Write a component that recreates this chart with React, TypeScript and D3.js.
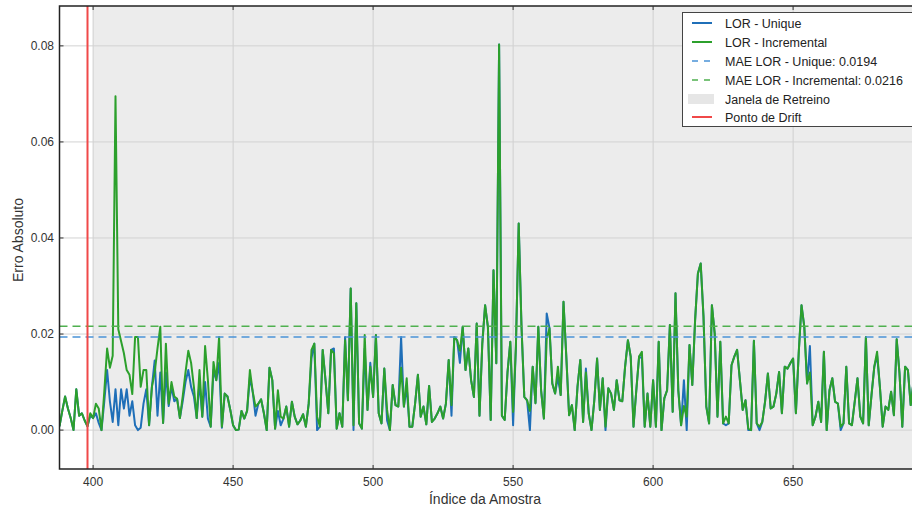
import React, { useEffect, useRef } from "react";
import * as d3 from "d3";

const startIndex = 388;

const incremental: number[] = [
  0.0008, 0.004, 0.007, 0.0045, 0.0025, 0.0, 0.0085, 0.003, 0.0035, 0.002,
  0.0008, 0.0035, 0.0025, 0.0055, 0.0045, 0.0, 0.008, 0.017, 0.013, 0.0155,
  0.0695, 0.021, 0.0185, 0.016, 0.0125, 0.0115, 0.0075, 0.0194, 0.0194, 0.009,
  0.0125, 0.0125, 0.001, 0.009, 0.012, 0.017, 0.0215, 0.0015, 0.018, 0.0055,
  0.01, 0.007, 0.0065, 0.0025, 0.007, 0.012, 0.0165, 0.014, 0.009, 0.0025,
  0.0125, 0.0028, 0.0175, 0.0104, 0.0007, 0.0142, 0.0104, 0.0194, 0.0007, 0.0076,
  0.007, 0.0042, 0.001, 0.0, 0.0001, 0.004, 0.0024, 0.004, 0.0125, 0.008,
  0.0049, 0.0055, 0.0064, 0.0035, 0.0, 0.013, 0.0104, 0.0003, 0.0083, 0.0028,
  0.0024, 0.0049, 0.0007, 0.0059, 0.0028, 0.0012, 0.002, 0.0033, 0.0007, 0.0055,
  0.0167, 0.018, 0.0028, 0.0007, 0.0167, 0.0104, 0.0035, 0.0167, 0.016, 0.0003,
  0.0035, 0.0007, 0.0187, 0.0062, 0.0295, 0.001, 0.0264, 0.0014, 0.0003, 0.0198,
  0.0042, 0.0132, 0.0069, 0.0198, 0.0035, 0.0014, 0.0128, 0.0042, 0.0, 0.0094,
  0.0052, 0.0049, 0.013, 0.0049, 0.0108, 0.0007, 0.0007, 0.0055, 0.0115, 0.0028,
  0.0049, 0.0012, 0.0092, 0.0017, 0.0024, 0.0035, 0.0049, 0.0024, 0.0055, 0.0146,
  0.0052, 0.0194, 0.0187, 0.0165, 0.0215, 0.0125, 0.017, 0.0104, 0.0069, 0.0222,
  0.003, 0.018, 0.026, 0.0215, 0.0021, 0.0333, 0.0139, 0.0803, 0.003, 0.0021,
  0.012, 0.0184, 0.0038, 0.0174, 0.043, 0.0215, 0.0069, 0.0062, 0.004, 0.0132,
  0.0056, 0.0215, 0.0083, 0.0024, 0.019, 0.0212, 0.0097, 0.0076, 0.0132, 0.0073,
  0.0267, 0.0153, 0.0031, 0.0052, 0.0, 0.009, 0.0146, 0.0017, 0.012, 0.0035,
  0.0, 0.0062, 0.0149, 0.0042, 0.0108, 0.0007, 0.0087, 0.0076, 0.0042, 0.0104,
  0.0062, 0.006, 0.0132, 0.0187, 0.0153, 0.0007, 0.0083, 0.0153, 0.0163, 0.0007,
  0.0076, 0.0007, 0.0104, 0.0007, 0.0184, 0.0, 0.0066, 0.0083, 0.0219, 0.0038,
  0.0285, 0.0083, 0.001, 0.005, 0.0028, 0.0177, 0.0094, 0.0229, 0.0326, 0.0347,
  0.0236, 0.0049, 0.0014, 0.026, 0.0201, 0.0028, 0.0184, 0.0014, 0.0028, 0.0014,
  0.0135, 0.0153, 0.0167, 0.0104, 0.0042, 0.0062, 0.0003, 0.0, 0.0186, 0.0014,
  0.0007, 0.0017, 0.006, 0.0118, 0.0045, 0.0049, 0.0076, 0.0121, 0.0035, 0.0132,
  0.0128, 0.0139, 0.0149, 0.0035, 0.016, 0.026, 0.0215, 0.0097, 0.012, 0.001,
  0.0028, 0.0059, 0.0017, 0.0163, 0.0, 0.0083, 0.0108, 0.0059, 0.0055, 0.0007,
  0.0014, 0.0132, 0.0014, 0.001, 0.0059, 0.0108, 0.0028, 0.0014, 0.0194, 0.001,
  0.0073, 0.0132, 0.0163, 0.009, 0.0007, 0.0049, 0.0042, 0.008, 0.0031, 0.0189,
  0.0118, 0.0007, 0.0132, 0.0125, 0.0052, 0.01,
];

const unique: number[] = [
  0.0008, 0.004, 0.007, 0.0045, 0.0025, 0.0, 0.0085, 0.003, 0.0035, 0.002,
  0.0008, 0.003, 0.0025, 0.0035, 0.0015, 0.0, 0.006, 0.0125, 0.006, 0.0017,
  0.0085, 0.001, 0.0085, 0.0045, 0.0085, 0.003, 0.006, 0.001, 0.0, 0.0005,
  0.0055, 0.0085, 0.001, 0.009, 0.0145, 0.003, 0.012, 0.0015, 0.012, 0.005,
  0.009, 0.006, 0.0065, 0.0025, 0.006, 0.01, 0.0125, 0.009, 0.007, 0.0025,
  0.01, 0.0028, 0.01, 0.0024, 0.0007, 0.0125, 0.0104, 0.014, 0.0005, 0.0076,
  0.007, 0.0042, 0.001, 0.0, 0.0001, 0.004, 0.0024, 0.004, 0.011, 0.008,
  0.003, 0.0055, 0.0064, 0.0035, 0.0, 0.013, 0.0104, 0.0003, 0.004, 0.001,
  0.0024, 0.0049, 0.0007, 0.0059, 0.0028, 0.0012, 0.002, 0.0033, 0.0007, 0.0055,
  0.015, 0.018, 0.0, 0.0007, 0.0167, 0.0104, 0.0035, 0.0167, 0.017, 0.0003,
  0.0035, 0.0007, 0.0194, 0.0062, 0.0295, 0.0, 0.0264, 0.0014, 0.0003, 0.017,
  0.0042, 0.014, 0.0069, 0.0198, 0.0035, 0.0014, 0.0128, 0.002, 0.0, 0.0094,
  0.0052, 0.0049, 0.0194, 0.0049, 0.009, 0.0007, 0.0007, 0.0055, 0.0115, 0.0028,
  0.0049, 0.0012, 0.0092, 0.0017, 0.0024, 0.0035, 0.0049, 0.0024, 0.0055, 0.0146,
  0.003, 0.0194, 0.0187, 0.014, 0.0215, 0.0125, 0.017, 0.0104, 0.0069, 0.0222,
  0.003, 0.018, 0.026, 0.0215, 0.0021, 0.0333, 0.0139, 0.0803, 0.003, 0.0021,
  0.012, 0.0184, 0.001, 0.0174, 0.043, 0.0215, 0.0069, 0.0062, 0.0, 0.0132,
  0.0056, 0.0215, 0.0083, 0.0024, 0.0243, 0.0212, 0.0097, 0.0076, 0.011, 0.0073,
  0.0267, 0.0153, 0.0031, 0.0052, 0.0, 0.009, 0.0146, 0.0017, 0.0128, 0.0035,
  0.0, 0.0062, 0.0149, 0.0042, 0.0108, 0.0, 0.0087, 0.0076, 0.0042, 0.0104,
  0.0062, 0.006, 0.0132, 0.0187, 0.0153, 0.0007, 0.0083, 0.0153, 0.015, 0.0007,
  0.0076, 0.0007, 0.0104, 0.0007, 0.0184, 0.0, 0.0066, 0.0083, 0.0219, 0.0038,
  0.0285, 0.0083, 0.001, 0.0104, 0.0, 0.0177, 0.0094, 0.0229, 0.0326, 0.0347,
  0.0236, 0.0049, 0.0014, 0.026, 0.0201, 0.0028, 0.0184, 0.0014, 0.001, 0.0014,
  0.0135, 0.0153, 0.0167, 0.0104, 0.0042, 0.0062, 0.0, 0.0, 0.0186, 0.0014,
  0.0, 0.0017, 0.006, 0.0118, 0.0045, 0.0049, 0.0076, 0.0121, 0.0035, 0.0132,
  0.0128, 0.0139, 0.0149, 0.0035, 0.016, 0.026, 0.0215, 0.0097, 0.0175, 0.001,
  0.0028, 0.0059, 0.0017, 0.0163, 0.0, 0.0083, 0.0108, 0.0059, 0.0055, 0.0,
  0.0014, 0.0132, 0.0014, 0.001, 0.0059, 0.0108, 0.0028, 0.0014, 0.0194, 0.001,
  0.0073, 0.0132, 0.0155, 0.009, 0.0007, 0.0049, 0.0042, 0.008, 0.0031, 0.0189,
  0.0118, 0.0007, 0.0132, 0.0125, 0.0052, 0.01,
];

const maeUnique = 0.0194;
const maeIncremental = 0.0216;
const driftPoint = 398;
const retrainStart = 400;
const xTicks = [400, 450, 500, 550, 600, 650];
const yTicks = [0, 0.02, 0.04, 0.06, 0.08];

const legendItems = [
  { label: "LOR - Unique", kind: "line", color: "#1f6fb8" },
  { label: "LOR - Incremental", kind: "line", color: "#2ca02c" },
  { label: "MAE LOR - Unique: 0.0194", kind: "dash", color: "#4a93d6" },
  { label: "MAE LOR - Incremental: 0.0216", kind: "dash", color: "#4fb04f" },
  { label: "Janela de Retreino", kind: "patch", color: "#e6e6e6" },
  { label: "Ponto de Drift", kind: "line", color: "#f04848" },
];

export default function App() {
  const ref = useRef<SVGSVGElement>(null);

  useEffect(() => {
    const width = 912;
    const height = 508;
    const left = 59.5;
    const top = 6;
    const bottom = 469;
    const right = 913.5;
    const font = "'Liberation Sans', Arial, sans-serif";

    const svg = d3.select(ref.current);
    svg.selectAll("*").remove();

    const x = d3.scaleLinear().domain([388, 693]).range([left, right]);
    const y = d3.scaleLinear().domain([-0.0081, 0.0883]).range([bottom, top]);

    svg.append("rect").attr("width", width).attr("height", height).attr("fill", "#fff");

    // retrain window shading
    svg
      .append("rect")
      .attr("x", x(retrainStart))
      .attr("y", top)
      .attr("width", right - x(retrainStart))
      .attr("height", bottom - top)
      .attr("fill", "#ececec");

    // grid
    svg
      .append("g")
      .selectAll("line")
      .data(xTicks)
      .join("line")
      .attr("x1", (d) => x(d))
      .attr("x2", (d) => x(d))
      .attr("y1", top)
      .attr("y2", bottom)
      .attr("stroke", "#cfcfcf")
      .attr("stroke-width", 1);

    svg
      .append("g")
      .selectAll("line")
      .data(yTicks)
      .join("line")
      .attr("x1", left)
      .attr("x2", right)
      .attr("y1", (d) => y(d))
      .attr("y2", (d) => y(d))
      .attr("stroke", "#d2d2d2")
      .attr("stroke-width", 1);

    svg
      .append("defs")
      .append("clipPath")
      .attr("id", "plot-clip")
      .append("rect")
      .attr("x", left)
      .attr("y", top)
      .attr("width", right - left)
      .attr("height", bottom - top);

    const plot = svg.append("g").attr("clip-path", "url(#plot-clip)");

    const line = d3
      .line<number>()
      .x((_, i) => x(startIndex + i))
      .y((d) => y(d));

    plot
      .append("path")
      .datum(unique)
      .attr("d", line)
      .attr("fill", "none")
      .attr("stroke", "#1f6fb8")
      .attr("stroke-width", 2)
      .attr("stroke-linejoin", "round");

    plot
      .append("path")
      .datum(incremental)
      .attr("d", line)
      .attr("fill", "none")
      .attr("stroke", "#2ca02c")
      .attr("stroke-width", 2)
      .attr("stroke-linejoin", "round");

    plot
      .append("line")
      .attr("x1", left)
      .attr("x2", right)
      .attr("y1", y(maeUnique))
      .attr("y2", y(maeUnique))
      .attr("stroke", "#4a93d6")
      .attr("stroke-width", 1.5)
      .attr("stroke-dasharray", "8,5");

    plot
      .append("line")
      .attr("x1", left)
      .attr("x2", right)
      .attr("y1", y(maeIncremental))
      .attr("y2", y(maeIncremental))
      .attr("stroke", "#4fb04f")
      .attr("stroke-width", 1.5)
      .attr("stroke-dasharray", "8,5");

    plot
      .append("line")
      .attr("x1", x(driftPoint))
      .attr("x2", x(driftPoint))
      .attr("y1", top)
      .attr("y2", bottom)
      .attr("stroke", "#f04848")
      .attr("stroke-width", 2);

    // spines
    svg
      .append("path")
      .attr("d", `M${right},${top}H${left}V${bottom}H${right}`)
      .attr("fill", "none")
      .attr("stroke", "#222")
      .attr("stroke-width", 1.5);

    // ticks
    const tickG = svg.append("g").attr("stroke", "#333").attr("stroke-width", 1);
    xTicks.forEach((t) => {
      tickG.append("line").attr("x1", x(t)).attr("x2", x(t)).attr("y1", top).attr("y2", top + 4);
      tickG.append("line").attr("x1", x(t)).attr("x2", x(t)).attr("y1", bottom).attr("y2", bottom - 4);
    });
    yTicks.forEach((t) => {
      tickG.append("line").attr("x1", left).attr("x2", left + 4).attr("y1", y(t)).attr("y2", y(t));
    });

    svg
      .append("g")
      .selectAll("text")
      .data(xTicks)
      .join("text")
      .attr("x", (d) => x(d))
      .attr("y", 486)
      .attr("text-anchor", "middle")
      .style("font-family", font)
      .style("font-size", "12px")
      .attr("fill", "#333")
      .text((d) => d3.format("d")(d));

    svg
      .append("g")
      .selectAll("text")
      .data(yTicks)
      .join("text")
      .attr("x", 54)
      .attr("y", (d) => y(d) + 4)
      .attr("text-anchor", "end")
      .style("font-family", font)
      .style("font-size", "12px")
      .attr("fill", "#333")
      .text((d) => d3.format(".2f")(d));

    svg
      .append("text")
      .attr("x", 485)
      .attr("y", 504)
      .attr("text-anchor", "middle")
      .style("font-family", font)
      .style("font-size", "14px")
      .attr("fill", "#333")
      .text("Índice da Amostra");

    svg
      .append("text")
      .attr("transform", "translate(23,240) rotate(-90)")
      .attr("text-anchor", "middle")
      .style("font-family", font)
      .style("font-size", "14px")
      .attr("fill", "#333")
      .text("Erro Absoluto");

    // legend
    const lg = svg.append("g");
    lg.append("rect")
      .attr("x", 682.5)
      .attr("y", 12.5)
      .attr("width", 240)
      .attr("height", 114)
      .attr("fill", "#fff")
      .attr("stroke", "#444")
      .attr("stroke-width", 1);

    const rowY = [23, 42, 61, 80, 99, 117];
    legendItems.forEach((item, i) => {
      const cy = rowY[i];
      if (item.kind === "line") {
        lg.append("line")
          .attr("x1", 692).attr("x2", 712).attr("y1", cy).attr("y2", cy)
          .attr("stroke", item.color).attr("stroke-width", 2);
      } else if (item.kind === "dash") {
        lg.append("line")
          .attr("x1", 692).attr("x2", 712).attr("y1", cy).attr("y2", cy)
          .attr("stroke", item.color).attr("stroke-width", 1.5)
          .attr("stroke-dasharray", "6,6");
      } else {
        lg.append("rect")
          .attr("x", 688).attr("y", cy - 5).attr("width", 26).attr("height", 10)
          .attr("fill", item.color);
      }
      lg.append("text")
        .attr("x", 725)
        .attr("y", cy + 4.5)
        .style("font-family", font)
        .style("font-size", "12.5px")
        .attr("fill", "#222")
        .text(item.label);
    });
  }, []);

  return (
    <svg
      ref={ref}
      width={912}
      height={508}
      style={{ position: "absolute", left: 0, top: 0, display: "block" }}
    />
  );
}
